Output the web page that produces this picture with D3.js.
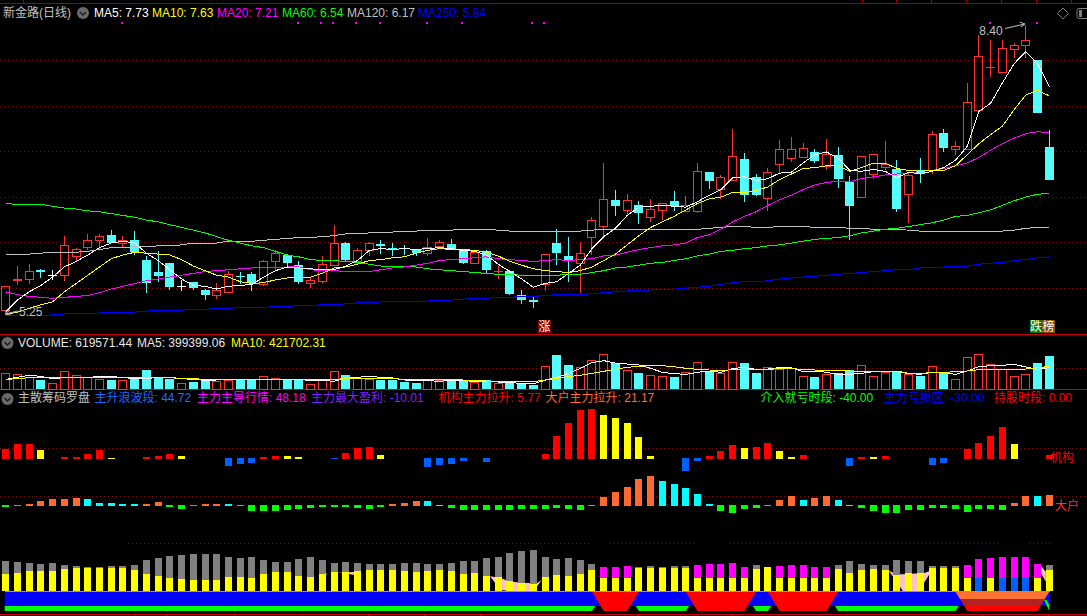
<!DOCTYPE html>
<html><head><meta charset="utf-8">
<script src="https://cdn.jsdelivr.net/npm/d3@7"></script>
<style>
html,body{margin:0;padding:0;background:#000;overflow:hidden}
svg{display:block}
text{font-family:"Liberation Sans","Noto Sans CJK SC",sans-serif;font-size:12px}
</style></head><body>
<svg id="c" width="1087" height="616"></svg>
<script>
// ---------- price series ----------
const open=[5.30,5.62,5.64,5.74,5.68,5.68,5.89,5.99,6.06,6.12,
6.03,6.06,5.85,5.72,5.81,5.56,5.61,5.52,5.47,5.50,
5.67,5.69,5.59,5.84,5.90,5.79,5.60,5.62,5.79,6.03,
5.83,5.95,6.02,5.98,5.98,5.96,5.92,6.00,6.02,5.95,
5.81,5.94,5.72,5.73,5.47,5.41,5.59,6.03,5.89,5.81,
6.10,6.22,6.50,6.39,6.44,6.31,6.39,6.49,6.38,6.38,
6.80,6.62,6.72,6.94,6.75,6.52,6.89,6.95,6.97,7.02,
6.87,6.99,6.69,6.53,6.78,6.86,6.84,6.56,6.82,6.82,
7.23,7.05,7.05,7.48,7.93,7.89,8.14,8.18,8.02,7.07];
const high=[5.56,5.78,5.80,5.75,5.74,6.11,5.98,6.13,6.13,6.17,
6.11,6.16,5.89,5.94,5.81,5.63,5.61,5.53,5.60,5.73,
5.72,5.72,5.85,5.95,5.91,5.84,5.65,5.89,6.23,6.04,
5.98,6.04,6.06,6.03,6.01,5.97,6.08,6.06,6.07,5.96,
5.94,5.95,5.78,5.74,5.52,5.44,5.91,6.18,6.10,6.04,
6.31,6.90,6.61,6.56,6.49,6.51,6.47,6.60,6.54,6.90,
6.80,6.77,7.27,7.01,6.78,6.85,7.15,7.18,7.12,7.05,
7.16,7.07,6.76,6.98,7.00,7.14,6.93,6.80,6.95,7.25,
7.27,7.14,7.77,8.29,8.24,8.24,8.20,8.40,8.02,7.26];
const low=[5.25,5.57,5.59,5.65,5.63,5.62,5.83,5.95,5.97,6.03,
5.98,5.90,5.49,5.61,5.52,5.51,5.52,5.41,5.42,5.50,
5.59,5.51,5.56,5.74,5.78,5.59,5.54,5.60,5.78,5.84,
5.80,5.89,5.91,5.89,5.90,5.89,5.89,5.96,5.95,5.80,
5.80,5.70,5.64,5.46,5.37,5.32,5.51,5.79,5.61,5.49,
5.90,6.11,6.32,6.34,6.24,6.26,6.28,6.38,6.38,6.36,
6.62,6.51,6.72,6.48,6.54,6.38,6.79,6.91,6.97,6.90,
6.82,6.63,6.06,6.53,6.73,6.82,6.37,6.25,6.68,6.78,
7.02,6.99,7.04,7.45,7.84,7.89,8.04,8.04,7.44,6.72];
const close=[5.56,5.64,5.73,5.72,5.68,6.01,5.97,6.06,6.11,6.03,
6.06,5.93,5.60,5.67,5.55,5.56,5.54,5.46,5.52,5.69,
5.66,5.60,5.84,5.92,5.81,5.61,5.63,5.80,6.03,5.85,
5.95,6.03,6.00,5.95,5.96,5.92,5.99,6.04,5.96,5.81,
5.93,5.74,5.73,5.48,5.41,5.39,5.91,5.92,5.83,5.92,
6.28,6.51,6.43,6.50,6.36,6.40,6.46,6.43,6.44,6.81,
6.70,6.75,6.98,6.55,6.55,6.80,7.05,7.05,7.06,6.92,
7.00,6.73,6.43,6.98,7.00,6.89,6.40,6.77,6.79,7.21,
7.06,7.08,7.56,8.06,7.94,8.15,8.18,8.24,7.44,6.72];
const ma5=[5.28,5.41,5.50,5.57,5.66,5.77,5.83,5.90,5.98,6.03,
6.05,6.03,5.92,5.84,5.74,5.64,5.57,5.56,5.53,5.56,
5.57,5.58,5.66,5.73,5.77,5.76,5.75,5.74,5.74,5.78,
5.84,5.95,5.97,5.96,5.97,5.96,5.97,5.98,5.97,5.95,
5.94,5.90,5.80,5.72,5.64,5.55,5.59,5.61,5.70,5.79,
5.97,6.10,6.19,6.33,6.42,6.43,6.44,6.43,6.42,6.48,
6.55,6.61,6.74,6.75,6.71,6.73,6.79,6.80,6.90,6.99,
7.02,6.95,6.82,6.81,6.83,6.81,6.74,6.80,6.78,6.81,
6.85,6.93,7.08,7.46,7.55,7.77,7.98,8.11,7.98,7.73];
const ma10=[5.25,5.28,5.32,5.36,5.39,5.50,5.59,5.68,5.77,5.86,
5.90,5.93,5.92,5.91,5.90,5.85,5.78,5.73,5.68,5.66,
5.61,5.59,5.60,5.63,5.65,5.66,5.66,5.70,5.76,5.77,
5.80,5.84,5.85,5.87,5.88,5.92,5.95,5.97,5.96,5.96,
5.95,5.93,5.89,5.83,5.79,5.75,5.73,5.72,5.71,5.73,
5.77,5.84,5.91,6.01,6.11,6.20,6.26,6.32,6.39,6.46,
6.51,6.53,6.58,6.58,6.60,6.64,6.72,6.78,6.84,6.85,
6.87,6.87,6.81,6.85,6.90,6.90,6.84,6.82,6.81,6.82,
6.82,6.87,6.99,7.11,7.21,7.30,7.48,7.64,7.69,7.63];
const ma20=[5.50,5.47,5.45,5.44,5.43,5.44,5.45,5.46,5.49,5.53,
5.56,5.59,5.62,5.64,5.66,5.68,5.70,5.72,5.73,5.74,
5.75,5.76,5.76,5.76,5.77,5.77,5.74,5.73,5.73,5.72,
5.72,5.72,5.74,5.76,5.77,5.79,5.81,5.84,5.85,5.86,
5.87,5.88,5.86,5.85,5.84,5.83,5.84,5.85,5.84,5.85,
5.86,5.89,5.90,5.93,5.96,5.98,6.00,6.01,6.03,6.09,
6.12,6.18,6.26,6.32,6.37,6.44,6.50,6.55,6.61,6.66,
6.69,6.70,6.70,6.73,6.75,6.77,6.78,6.79,6.81,6.82,
6.84,6.87,6.90,6.96,7.04,7.11,7.17,7.22,7.24,7.23];
const ma60=[6.46,6.45,6.45,6.45,6.43,6.41,6.40,6.38,6.37,6.35,
6.33,6.31,6.28,6.26,6.23,6.20,6.17,6.14,6.10,6.06,
6.03,6.00,5.98,5.94,5.90,5.88,5.85,5.84,5.84,5.83,
5.82,5.80,5.78,5.78,5.77,5.77,5.75,5.74,5.73,5.72,
5.71,5.70,5.69,5.69,5.68,5.68,5.68,5.68,5.69,5.69,
5.71,5.73,5.76,5.77,5.79,5.81,5.82,5.84,5.86,5.89,
5.91,5.94,5.95,5.97,5.98,6.00,6.01,6.03,6.05,6.07,
6.08,6.09,6.11,6.14,6.16,6.18,6.19,6.21,6.23,6.25,
6.28,6.32,6.33,6.36,6.39,6.44,6.49,6.53,6.56,6.57];
const ma120=[5.91,5.91,5.91,5.92,5.93,5.93,5.93,5.94,5.96,5.98,
5.98,5.99,5.99,6.00,6.00,6.01,6.03,6.03,6.03,6.05,
6.05,6.05,6.06,6.07,6.08,6.09,6.09,6.10,6.11,6.13,
6.13,6.14,6.14,6.15,6.16,6.16,6.17,6.17,6.17,6.18,
6.18,6.18,6.17,6.16,6.16,6.15,6.16,6.16,6.16,6.16,
6.17,6.18,6.18,6.18,6.18,6.18,6.18,6.18,6.18,6.18,
6.19,6.20,6.21,6.21,6.20,6.20,6.21,6.21,6.21,6.20,
6.20,6.20,6.19,6.19,6.18,6.18,6.18,6.17,6.16,6.16,
6.16,6.16,6.16,6.16,6.16,6.16,6.17,6.19,6.20,6.20];
const ma250=[5.24,5.24,5.24,5.24,5.25,5.26,5.26,5.26,5.27,5.27,
5.28,5.28,5.29,5.30,5.30,5.30,5.31,5.31,5.32,5.32,
5.33,5.33,5.33,5.34,5.34,5.35,5.35,5.36,5.36,5.37,
5.38,5.38,5.39,5.39,5.40,5.40,5.40,5.41,5.41,5.42,
5.43,5.43,5.44,5.44,5.45,5.45,5.46,5.47,5.47,5.47,
5.48,5.49,5.50,5.51,5.51,5.52,5.53,5.53,5.54,5.55,
5.56,5.58,5.60,5.61,5.61,5.62,5.64,5.65,5.66,5.67,
5.68,5.69,5.70,5.71,5.72,5.73,5.74,5.74,5.76,5.76,
5.77,5.78,5.78,5.80,5.81,5.82,5.84,5.85,5.87,5.88];
const signalDays=[10,25,27,28,30,32,36,39,45,46,84,88];
// ---------- volume (thousands) ----------
const volume=[294,275,219,169,113,332,257,219,181,169,
163,181,357,219,188,106,131,156,144,163,
181,163,238,200,163,163,88,181,332,263,
207,181,163,163,131,113,181,163,144,144,
131,169,106,131,94,75,426,638,451,407,
538,651,488,350,300,257,238,225,313,501,
325,300,501,488,300,413,375,388,238,225,
275,300,357,444,238,313,313,275,244,426,
313,181,595,651,463,369,238,275,488,619.571];
const volMa5=[181,219,257,238,194,213,225,219,232,232,
219,188,200,213,213,194,181,163,169,169,
169,175,181,181,181,181,156,163,144,200,
219,238,219,207,169,163,156,144,163,156,
144,138,131,119,106,100,163,219,294,388,
494,532,488,469,451,388,313,288,275,313,
338,313,388,401,369,375,401,401,325,338,
313,275,275,294,325,325,338,294,275,313,
313,275,338,419,438,444,463,413,369,399.399];
const volMa10=[181,194,213,219,219,225,225,225,225,219,
213,213,219,219,213,200,194,181,181,181,
181,181,181,181,181,175,169,181,181,194,
194,194,194,194,181,181,175,175,175,169,
156,150,144,144,144,138,169,200,232,257,
294,332,369,407,426,444,438,419,388,369,
357,338,369,375,363,363,388,388,363,357,
350,338,338,325,325,325,325,288,294,307,
313,325,338,363,369,369,369,375,400,421.702];
// ---------- 机构 / 大户 ----------
const jigou=[14.9,21.65,21.65,12.99,0,2.89,2.4,7.22,12.99,1.44,
0,0,2.89,4.33,7.22,4.33,0,0,0,-11.54,
-8.66,-7.22,2.89,4.33,4.33,2.89,0,0,-0.96,8.66,
15.87,17.32,5.77,0,0,0,-12.99,-10.1,-8.66,-4.33,
0,-5.77,0,0,0,0,7.22,33.19,51.95,70.7,
72.15,63.5,59.16,51.95,31.75,4.33,0,0,-18.76,-4.33,
4.33,11.54,20.2,15.87,17.32,23.09,11.54,2.89,5.77,0,
0,0,-11.54,2.89,2.89,4.33,0,0,0,-10.1,
-7.22,0,14.43,23.09,33.19,46.18,21.65,0,0,5.77];
const jigouYellowDays=[3,9,15,24,25,32,51,52,53,54,55,63,66,67,74,86];
const dahu=[-3.85,1.92,3.85,9.62,13.47,13.47,15.4,13.47,5.77,5.77,
3.85,3.85,3.85,7.7,-3.85,-7.7,1.92,3.85,3.85,3.85,
-1.92,-11.55,-11.55,-11.55,-9.62,-7.7,-5.77,-3.85,-3.85,-3.85,
-5.77,-7.7,-3.85,3.85,5.77,9.62,9.62,1.92,-5.77,-9.62,
-9.62,-9.62,-9.62,-9.62,-7.7,-7.7,-7.7,-5.77,-7.7,-9.62,
1.92,17.32,26.94,36.57,51.96,57.74,48.11,42.34,34.64,23.09,
3.85,-11.55,-15.4,-7.7,-5.77,1.92,11.55,19.25,11.55,15.4,
19.25,11.55,1.92,-5.77,-11.55,-15.4,-15.4,-9.62,-9.62,-5.77,
-5.77,-7.7,-13.47,-7.7,-7.7,-9.62,5.77,19.25,19.25,21.17];
const dahuCyanDays=[7,8,9,10,11,19,36,37,56,57,58,59,60,68,71,72,88];
// ---------- 筹码罗盘 ----------
const lowerBar=[35.7,37.8,42,42,42,46.2,48.3,48.3,48.3,48.3,
48.3,44.1,35.7,31.5,27.3,25.2,23.1,23.1,23.1,29.4,
29.4,27.3,35.7,39.9,39.9,31.5,29.4,35.7,39.9,39.9,
42,44.1,44.1,44.1,42,39.9,42,44.1,42,35.7,
37.8,31.5,29.4,21,16.8,14.7,29.4,33.6,31.5,35.7,
44.1,27.3,27.3,27.3,48.3,48.3,48.3,48.3,48.3,27.3,
27.3,27.3,27.3,27.3,46.2,50.4,27.3,27.3,27.3,27.3,
27.3,46.2,37.8,44.1,46.2,44.1,33.6,37.8,37.8,48.3,
48.3,48.3,27.3,27.3,27.3,27.3,27.3,27.3,27.3,44.72];
const upperBar=[63,60.9,58.8,56.7,58.8,54.6,52.5,50.4,50.4,52.5,
52.5,54.6,65.1,69.3,73.5,75.6,77.7,77.7,77.7,71.4,
69.3,71.4,65.1,60.9,60.9,67.2,71.4,65.1,58.8,60.9,
58.8,56.7,56.7,56.7,58.8,58.8,56.7,56.7,58.8,63,
63,69.3,71.4,79.8,84,86.1,71.4,67.2,69.3,65.1,
56.7,50.4,50.4,52.5,50.4,52.5,50.4,52.5,52.5,54.6,
56.7,56.7,58.8,50.4,54.6,50.4,52.5,54.6,54.6,50.4,
50.4,54.6,63,56.7,54.6,54.6,65.1,63,63,52.5,
52.5,52.5,54.6,67.2,69.3,71.4,71.4,71.4,56.7,54.6];
const magentaDays=[51,52,53,59,60,61,62,63,66,67,68,69,70,82,83,84,85,86,87,88];
const blueLowerDays=[83,85,86,87];
const pinkBands=[
 {day:[26.6,27.4],hi:[32,37],lo:[32,35]},
 {day:[28.3,29,29.6,30],hi:[39,39,40,40],lo:[39,37,34,34]},
 {day:[41.3,42.2,43,44,45,45.3,45.7],hi:[31,27,20,17.5,16,16,23],lo:[31,2,0,0,0,9,23]},
 {day:[75.3,76,76.5,78,78.3,79],hi:[42.7,35,35,37,37,44],lo:[42.7,19.6,0,0,16,44]},
 {day:[88.3,88.7],hi:[52.5,40.6],lo:[37,19.6]}
];
const holdSpans=[[50,54],[58,64],[65,71]];
const topSpan=[81,89];
const greenSpans=[[0,50],[54,58],[64,65],[71,81]];
const levelHold=0, levelLoss=-30, levelEnter=-40, levelMid=-15.4;
// ---------- labels ----------
const titleItems=[["新金路(日线)",3,"#c0c0c0"],["MA5: 7.73",94,"#ffffff"],["MA10: 7.63",152,"#ffff00"],["MA20: 7.21",217,"#ff00ff"],["MA60: 6.54",282,"#00ff00"],["MA120: 6.17",347,"#c0c0c0"],["MA250: 5.84",418,"#0000ff"]];
const volItems=[["VOLUME: 619571.44",18,"#e8e8e8"],["MA5: 399399.06",137,"#e8e8e8"],["MA10: 421702.31",231,"#ffff00"]];
const compassItems=[["主散筹码罗盘",18,"#c0c0c0"],["主升浪波段: 44.72",94.5,"#1a6cff"],["主力主导行情: 48.18",197,"#ff00ff"],["主力最大盈利: -10.01",311,"#8020ff"],["机构主力拉升: 5.77",438.6,"#ff0000"],["大户主力拉升: 21.17",545.6,"#ff6a33"],["介入就亏时段: -40.00",760.5,"#00ff00"],["主力亏损区: -30.00",883.7,"#0000ff"],["持股时段: 0.00",994,"#ff0000"]];

const RED="#ff3232",CYAN="#54fcfc",GRID="#7c0c0c";
const days=d3.range(open.length);
const svg=d3.select("#c");
svg.append("rect").attr("width",1087).attr("height",616).attr("fill","#000");
const x=d3.scaleLinear().domain([0,89]).range([5.7,1049.3]);
const yP=d3.scaleLinear().domain([5.248,8.4]).range([315,25]);
const yV=d3.scaleLinear().domain([0,619.571]).range([389,356]);
const yJ=d3.scaleLinear().domain([0,100]).range([459,389.7]);
const yD=d3.scaleLinear().domain([0,100]).range([506,454]);
const yC=d3.scaleLinear().domain([0,100]).range([591,543.3]);
const yB=d3.scaleLinear().domain([levelEnter,levelLoss,levelHold]).range([611,606,591.7]);

// frame lines and dotted grids
const gLines=svg.append("g").attr("shape-rendering","crispEdges");
function hline(y,c,x0=0,x1=1087,dash=null){const l=gLines.append("line").attr("x1",x0).attr("x2",x1).attr("y1",y).attr("y2",y).attr("stroke",c);if(dash)l.attr("stroke-dasharray",dash);}
[60.5,106.5,151.5,197.5,242.5,288.5,368.5,448.5,496.5].forEach(y=>hline(y,GRID,0,1087,"1 3"));
[[128,590.6],[609,693.5],[729,997.5],[1029,1053]].forEach(s=>hline(543.5,GRID,s[0],s[1],"1 3"));
hline(3.5,"#a00000");hline(334.5,"#d00000");hline(389.5,"#d00000");hline(614.5,"#d00000");
[23,861.7,895.7,930.7,965.7,1000.7,1035.7,1070.7].forEach(t=>gLines.append("line").attr("x1",Math.round(t)+.5).attr("x2",Math.round(t)+.5).attr("y1",0).attr("y2",3).attr("stroke","#a00000"));
[57,135,166,234,301,368,424,480,590.6,637.7,684.8,731.9,779,847,913,982,1048].forEach(t=>gLines.append("line").attr("x1",Math.round(t)+.5).attr("x2",Math.round(t)+.5).attr("y1",615).attr("y2",616).attr("stroke","#d00000"));

// candles
const gC=svg.append("g").attr("shape-rendering","crispEdges");
days.forEach(i=>{
  const c=close[i]>open[i]?RED:(close[i]<open[i]?CYAN:"#ffffff");
  const left=Math.round(x(i)-4.5),cx=left+4.5;
  const t=Math.round(yP(Math.max(open[i],close[i]))),b=Math.round(yP(Math.min(open[i],close[i])));
  const h=Math.round(yP(high[i])),l=Math.round(yP(low[i]));
  if(c===RED&&b-t>=3){
    gC.append("line").attr("x1",cx).attr("x2",cx).attr("y1",h).attr("y2",t).attr("stroke",c);
    gC.append("line").attr("x1",cx).attr("x2",cx).attr("y1",b).attr("y2",l).attr("stroke",c);
    gC.append("rect").attr("x",left+.5).attr("y",t+.5).attr("width",8).attr("height",b-t).attr("fill","none").attr("stroke",c);
  }else{
    gC.append("line").attr("x1",cx).attr("x2",cx).attr("y1",h).attr("y2",l).attr("stroke",c);
    gC.append("rect").attr("x",left).attr("y",t).attr("width",9).attr("height",Math.max(b-t,1)).attr("fill",c);
  }
});
// moving averages
const lineP=d3.line().x((d,i)=>x(i)).y(d=>yP(d));
[[ma250,"#0000ff"],[ma120,"#c0c0c0"],[ma60,"#00ff00"],[ma20,"#ff00ff"],[ma10,"#ffff00"],[ma5,"#ffffff"]].forEach(s=>
  svg.append("path").attr("d",lineP(s[0])).attr("fill","none").attr("stroke",s[1]).attr("stroke-width",1).attr("shape-rendering","crispEdges"));
// signal dots
svg.append("g").attr("shape-rendering","crispEdges").selectAll("rect").data(signalDays).join("rect")
  .attr("x",d=>Math.round(x(d))-2).attr("y",22).attr("width",2).attr("height",2).attr("fill","#ff00ff");

// annotations
svg.append("text").attr("x",979.3).attr("y",35).attr("fill","#c0c0c0").text("8.40");
svg.append("path").attr("d",`M1005,28.5L${x(87)-1},${yP(8.4)-1}M${x(87)-6},${yP(8.4)-3}L${x(87)-1},${yP(8.4)-1}L${x(87)-5},${yP(8.4)+2}`).attr("fill","none").attr("stroke","#c0c0c0");
svg.append("text").attr("x",19).attr("y",316).attr("fill","#c0c0c0").text("5.25");
svg.append("path").attr("d",`M18,311L${x(0)},${yP(5.25)-1}M${x(0)+4},310L${x(0)},${yP(5.25)-1}L${x(0)+5},315`).attr("fill","none").attr("stroke","#c0c0c0");
function badge(x0,w,fill,txt){
  svg.append("rect").attr("x",x0).attr("y",320).attr("width",w).attr("height",13).attr("fill",fill);
  svg.append("text").attr("x",x0+w/2).attr("y",331).attr("text-anchor","middle").attr("fill","#fff").text(txt);
}
badge(538,13,"#800000","涨");badge(1030,12,"#008000","跌");badge(1042,13,"#8b4a00","榜");

// volume
const gV=svg.append("g").attr("shape-rendering","crispEdges");
days.forEach(i=>{
  const left=Math.round(x(i)-4.5),t=Math.round(yV(volume[i]));
  if(close[i]>open[i]||close[i]===open[i]) gV.append("rect").attr("x",left+.5).attr("y",t+.5).attr("width",8).attr("height",389-t).attr("fill","none").attr("stroke",RED);
  else gV.append("rect").attr("x",left).attr("y",t).attr("width",9).attr("height",389-t).attr("fill",CYAN);
});
const lineV=d3.line().x((d,i)=>x(i)).y(d=>yV(d));
svg.append("path").attr("d",lineV(volMa5)).attr("fill","none").attr("stroke","#ffffff").attr("shape-rendering","crispEdges");
svg.append("path").attr("d",lineV(volMa10)).attr("fill","none").attr("stroke","#ffff00").attr("shape-rendering","crispEdges");

// 机构 and 大户 bars
const gI=svg.append("g").attr("shape-rendering","crispEdges");
days.forEach(i=>{
  const left=Math.round(x(i)-3.5);
  const j=jigou[i];
  if(j!==0){
    const col=j<0?"#0060ff":(jigouYellowDays.includes(i)?"#ffff00":"#ff0000");
    const y0=yJ(0),y1=yJ(Math.abs(j));
    if(j>0) gI.append("rect").attr("x",left).attr("y",Math.round(y1)).attr("width",7).attr("height",Math.max(1,Math.round(y0)-Math.round(y1))).attr("fill",col);
    else gI.append("rect").attr("x",left).attr("y",Math.round(y0)-1).attr("width",7).attr("height",Math.max(1,Math.round(y0-y1))).attr("fill",col);
  }
  const d=dahu[i];
  const dc=d<0?"#00ff00":(dahuCyanDays.includes(i)?"#00ffff":"#ff6a33");
  const y0=yD(0),y1=yD(Math.abs(d));
  if(d>0) gI.append("rect").attr("x",left).attr("y",Math.round(y1)).attr("width",7).attr("height",Math.max(1,Math.round(y0)-Math.round(y1))).attr("fill",dc);
  else gI.append("rect").attr("x",left).attr("y",Math.round(y0)-1).attr("width",7).attr("height",Math.max(1,Math.round(y0-y1))).attr("fill",dc);
});
svg.append("text").attr("x",1050).attr("y",462).attr("fill","#ff0000").text("机构");
svg.append("text").attr("x",1055).attr("y",510).attr("fill","#ff3030").text("大户");

// compass: pink bands beneath, then bars
pinkBands.forEach(b=>{
  const a=d3.area().x((d,i)=>x(d)).y1((d,i)=>yC(b.hi[i])).y0((d,i)=>yC(b.lo[i]));
  svg.append("path").attr("d",a(b.day)).attr("fill","#ffc0cb");
});
const gB=svg.append("g").attr("shape-rendering","crispEdges");
days.forEach(i=>{
  const left=Math.round(x(i)-3.5);
  const yl=Math.round(yC(lowerBar[i])),yu=Math.round(yC(upperBar[i])),y0=Math.round(yC(0));
  if(yu<yl) gB.append("rect").attr("x",left).attr("y",yu).attr("width",7).attr("height",yl-yu).attr("fill",magentaDays.includes(i)?"#ff00ff":"#808080");
  gB.append("rect").attr("x",left).attr("y",yl).attr("width",7).attr("height",y0-yl).attr("fill",blueLowerDays.includes(i)?"#0060ff":"#ffff00");
});
// bands
const poly=pts=>"M"+pts.map(p=>p[0]+","+p[1]).join("L")+"Z";
svg.append("rect").attr("x",x(0)-1).attr("y",yB(levelHold)).attr("width",x(89)+1-(x(0)-1)).attr("height",yB(levelLoss)-yB(levelHold)).attr("fill","#0000ff");
const greenOffset=0.28;
greenSpans.forEach((s,k)=>{
  const startTop=k===0?s[0]:s[0]-greenOffset, startBot=s[0], endTop=s[1]+greenOffset, endBot=s[1];
  svg.append("path").attr("d",poly([[x(startTop)-(k===0?1:0),yB(levelLoss)],[x(endTop),yB(levelLoss)],[x(endBot),yB(levelEnter)],[x(startBot)-(k===0?1:0),yB(levelEnter)]])).attr("fill","#00ff00");
});
svg.append("path").attr("d",poly([[x(88.55),yB(-17)],[x(88.75),yB(-17)],[x(89),yB(-28)],[x(89),yB(levelEnter)]])).attr("fill","#00ff00");
// x position along a slanted edge, one day wide from top to bottom
function edge(day,dir,level){return x(day+dir*(levelHold-level)/(levelHold-levelEnter));}
holdSpans.forEach(s=>{
  svg.append("path").attr("d",poly([[edge(s[0],1,levelHold),yB(levelHold)],[edge(s[1],-1,levelHold),yB(levelHold)],[edge(s[1],-1,levelEnter),yB(levelEnter)],[edge(s[0],1,levelEnter),yB(levelEnter)]])).attr("fill","#ff0000");
});
[[levelHold,levelMid,"#ff7033"],[levelMid,levelLoss,"#b22222"],[levelLoss,levelEnter,"#ff0000"]].forEach(l=>{
  svg.append("path").attr("d",poly([[edge(topSpan[0],1,l[0]),yB(l[0])],[edge(topSpan[1],-1,l[0]),yB(l[0])],[edge(topSpan[1],-1,l[1]),yB(l[1])],[edge(topSpan[0],1,l[1]),yB(l[1])]])).attr("fill",l[2]);
});
svg.append("line").attr("x1",x(0)-1).attr("x2",x(89)+1).attr("y1",591.5).attr("y2",591.5).attr("stroke","#ff7033").attr("shape-rendering","crispEdges");

// header texts and icons
function row(items,y){items.forEach(t=>svg.append("text").attr("x",t[1]).attr("y",y).attr("fill",t[2]).text(t[0]));}
row(titleItems,17);row(volItems,347);row(compassItems,402);
function chevron(cx,cy){
  svg.append("circle").attr("cx",cx).attr("cy",cy).attr("r",6).attr("fill","#6a6a6a");
  svg.append("path").attr("d",`M${cx-3},${cy-1}L${cx},${cy+2}L${cx+3},${cy-1}`).attr("fill","none").attr("stroke","#1c1c1c").attr("stroke-width",1.4);
}
chevron(83,13);chevron(7.5,343);chevron(7.5,399);
svg.append("path").attr("d","M1063,8L1068.5,13.5L1063,19L1057.5,13.5Z").attr("fill","none").attr("stroke","#808080");
svg.append("rect").attr("x",1077).attr("y",8.5).attr("width",12).attr("height",10).attr("rx",2).attr("fill","none").attr("stroke","#808080");
svg.append("rect").attr("x",1079).attr("y",10).attr("width",3).attr("height",7).attr("fill","#808080");
</script></body></html>
